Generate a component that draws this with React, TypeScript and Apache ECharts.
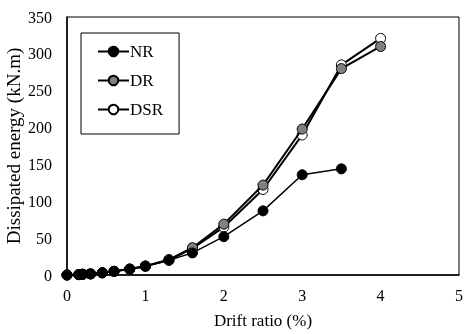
import React, { useEffect, useRef } from "react";
import * as echarts from "echarts";

const driftRatio = [0, 0.15, 0.2, 0.3, 0.45, 0.6, 0.8, 1.0, 1.3, 1.6, 2.0, 2.5, 3.0, 3.5, 4.0];
const nrValues = [0, 0.5, 1, 1.5, 3, 5, 8, 12, 20, 30, 52, 87, 136, 144];
const drValues = [0, 0.5, 1, 1.5, 3, 5, 8, 12, 21, 37, 69, 122, 198, 280, 310];
const dsrValues = [0, 0.5, 1, 1.5, 3, 5, 8, 12, 20, 36, 65, 116, 190, 285, 321];
const seriesNames = ["NR", "DR", "DSR"];
const seriesFill = ["#000000", "#808080", "#ffffff"];

const FONT = "'Liberation Serif', 'Times New Roman', serif";

export default function App() {
  const ref = useRef<HTMLDivElement>(null);
  useEffect(() => {
    if (!ref.current) return;
    const chart = echarts.init(ref.current, null, { renderer: "svg" });
    const all = [nrValues, drValues, dsrValues];
    const series = all.map((vals, i) => ({
      name: seriesNames[i],
      type: "line",
      data: vals.map((v, j) => [driftRatio[j], v]),
      symbol: "circle",
      symbolSize: 10,
      z: 10 - i,
      lineStyle: { color: "#000", width: i === 0 ? 1.5 : 2 },
      itemStyle: { color: seriesFill[i], borderColor: "#000", borderWidth: 1 },
      emphasis: { disabled: true },
    }));
    chart.setOption({
      animation: false,
      grid: {
        left: 67,
        right: 11,
        top: 17,
        bottom: 59,
        containLabel: false,
        outerBoundsMode: "none",
        show: true,
        borderColor: "#000",
        borderWidth: 1,
      },
      legend: {
        data: seriesNames,
        orient: "vertical",
        left: 81,
        top: 33,
        itemWidth: 31,
        itemHeight: 12,
        itemGap: 12,
        padding: [10, 16, 16, 16],
        borderColor: "#000",
        borderWidth: 1,
        backgroundColor: "#fff",
        textStyle: { fontFamily: FONT, fontSize: 17, color: "#000", padding: [0, 0, 0, -4] },
      },
      xAxis: {
        type: "value",
        min: 0,
        max: 5,
        interval: 1,
        name: "Drift ratio (%)",
        nameLocation: "middle",
        nameGap: 37,
        nameMoveOverlap: false,
        nameTextStyle: { fontFamily: FONT, fontSize: 17, color: "#000" },
        axisLine: { show: true, lineStyle: { color: "#000", width: 1.5 } },
        axisTick: { show: false },
        splitLine: { show: false },
        axisLabel: { fontFamily: FONT, fontSize: 16, color: "#000", margin: 12 },
      },
      yAxis: {
        type: "value",
        min: 0,
        max: 350,
        interval: 50,
        name: "Dissipated energy (kN.m)",
        nameLocation: "middle",
        nameGap: 44,
        nameMoveOverlap: false,
        nameTextStyle: { fontFamily: FONT, fontSize: 19, color: "#000" },
        axisLine: { show: true, lineStyle: { color: "#000", width: 1.5 } },
        axisTick: { show: false },
        splitLine: { show: false },
        axisLabel: { fontFamily: FONT, fontSize: 16, color: "#000", margin: 15 },
      },
      series,
    });
    return () => chart.dispose();
  }, []);
  return (
    <div
      ref={ref}
      style={{ position: "fixed", left: 0, top: 0, width: 470, height: 334 }}
    />
  );
}
